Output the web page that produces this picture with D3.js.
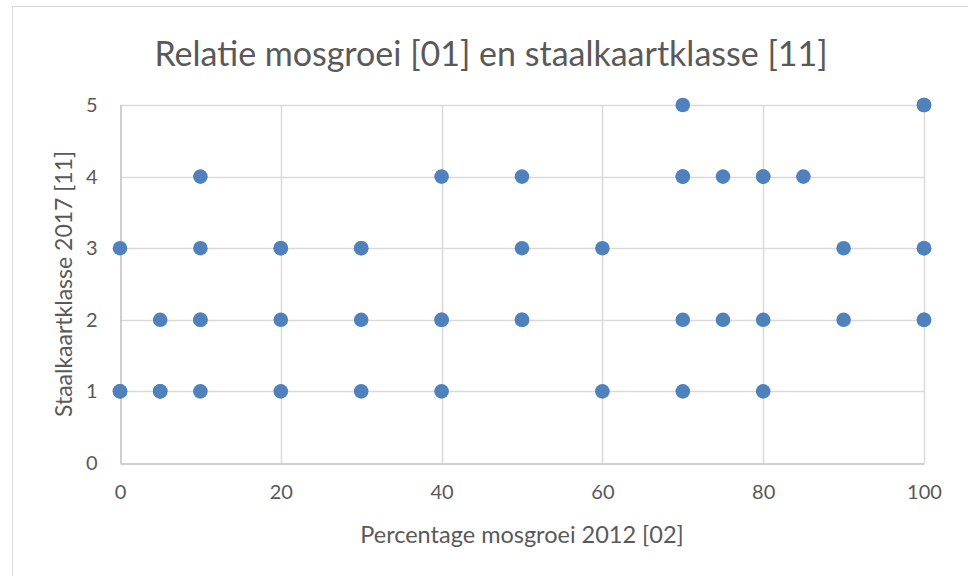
<!DOCTYPE html>
<html>
<head>
<meta charset="utf-8">
<script src="https://cdn.jsdelivr.net/npm/d3@7"></script>
<style>
  body { margin: 0; background: #fff; }
  text { font-family: Lato, "Open Sans", sans-serif; fill: #595959; }
</style>
</head>
<body>
<script>
// percentage mosgroei 2012 (x) and staalkaartklasse 2017 (y), one pair per measurement
const mosgroei = [
  0, 0, 5, 5, 10, 20, 30, 40, 60, 70, 80,
  5, 10, 10, 20, 30, 40, 40, 50, 50, 70, 75, 80, 90, 100, 100,
  0, 10, 20, 20, 30, 30, 50, 60, 90, 100, 100,
  10, 40, 50, 70, 70, 75, 80, 80, 85,
  70, 100, 100
];
const staalkaartklasse = [
  1, 1, 1, 1, 1, 1, 1, 1, 1, 1, 1,
  2, 2, 2, 2, 2, 2, 2, 2, 2, 2, 2, 2, 2, 2, 2,
  3, 3, 3, 3, 3, 3, 3, 3, 3, 3, 3,
  4, 4, 4, 4, 4, 4, 4, 4, 4,
  5, 5, 5
];
const xTicks = [0, 20, 40, 60, 80, 100];
const yTicks = [0, 1, 2, 3, 4, 5];

const chartTitle = 'Relatie mosgroei [01] en staalkaartklasse [11]';
const xTitle = 'Percentage mosgroei 2012 [02]';
const yTitle = 'Staalkaartklasse 2017 [11]';

const width = 968, height = 576;
const margin = {top: 105, right: 44, bottom: 113, left: 120};

const svg = d3.select('body').append('svg')
  .attr('width', width)
  .attr('height', height);

// chart area border
svg.append('rect')
  .attr('x', 12.5).attr('y', 6.5)
  .attr('width', width).attr('height', height)
  .attr('fill', 'none')
  .attr('stroke', '#d9d9d9');

const x = d3.scaleLinear().domain([0, 100]).range([margin.left, width - margin.right]);
const y = d3.scaleLinear().domain([0, 5]).range([height - margin.bottom, margin.top]);

// gridlines
svg.append('g')
  .selectAll('line')
  .data(xTicks.slice(1))
  .join('line')
    .attr('x1', d => Math.round(x(d)) + 0.5)
    .attr('x2', d => Math.round(x(d)) + 0.5)
    .attr('y1', y(0)).attr('y2', y(5))
    .attr('stroke', '#d9d9d9').attr('stroke-width', 1.5);

svg.append('g')
  .selectAll('line')
  .data(yTicks.slice(1))
  .join('line')
    .attr('x1', x(0)).attr('x2', x(100))
    .attr('y1', d => Math.round(y(d)) + 0.5)
    .attr('y2', d => Math.round(y(d)) + 0.5)
    .attr('stroke', '#d9d9d9').attr('stroke-width', 1.5);

// axes
const xAxis = svg.append('g')
  .attr('transform', `translate(0,${Math.round(y(0)) + 0.5})`)
  .call(d3.axisBottom(x).tickValues(xTicks).tickFormat(d3.format('d')).tickSize(0).tickPadding(21));
xAxis.select('.domain').attr('stroke', '#bfbfbf').attr('stroke-width', 1.5);
xAxis.selectAll('text').style('font-size', '20px').attr('fill', '#595959');

const yAxis = svg.append('g')
  .attr('transform', `translate(${Math.round(x(0)) + 0.5},0)`)
  .call(d3.axisLeft(y).tickValues(yTicks).tickFormat(d3.format('d')).tickSize(0).tickPadding(23));
yAxis.select('.domain').attr('stroke', '#bfbfbf').attr('stroke-width', 1.5);
yAxis.selectAll('text').style('font-size', '20px').attr('fill', '#595959');

// points
svg.append('g')
  .selectAll('circle')
  .data(mosgroei.map((d, i) => [d, staalkaartklasse[i]]))
  .join('circle')
    .attr('cx', d => x(d[0]))
    .attr('cy', d => y(d[1]))
    .attr('r', 7.3)
    .attr('fill', '#4f81bd');

// titles
svg.append('text')
  .attr('x', 491).attr('y', 66)
  .attr('text-anchor', 'middle')
  .style('font-size', '34px')
  .text(chartTitle);

svg.append('text')
  .attr('x', (x(0) + x(100)) / 2).attr('y', 543)
  .attr('text-anchor', 'middle')
  .style('font-size', '23.5px')
  .text(xTitle);

svg.append('text')
  .attr('transform', `translate(72,${(y(0) + y(5)) / 2}) rotate(-90)`)
  .attr('text-anchor', 'middle')
  .style('font-size', '23px')
  .text(yTitle);
</script>
</body>
</html>
